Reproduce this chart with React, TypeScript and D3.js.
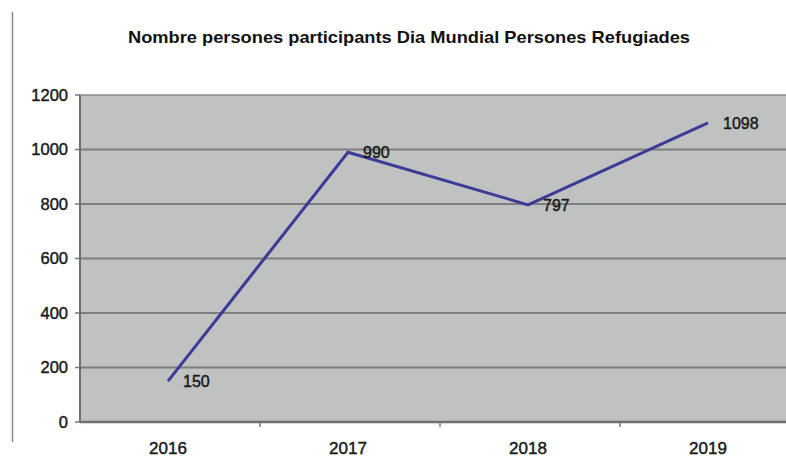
import React from "react";
import * as d3 from "d3";

const years = ["2016", "2017", "2018", "2019"];
const participants = [150, 990, 797, 1098];
const yTicks = [0, 200, 400, 600, 800, 1000, 1200];
const title = "Nombre persones participants Dia Mundial Persones Refugiades";

export default function App() {
  const W = 786, H = 458;
  const left = 80, right = 800, top = 95, bottom = 422;
  const x = d3.scaleBand<string>().domain(years).range([left, right]).padding(0);
  const y = d3.scaleLinear().domain([0, 1200]).range([bottom, top]);
  const cx = (d: string) => (x(d) as number) + x.bandwidth() / 2 - 2;
  const pts: [number, number][] = years.map((d, i) => [cx(d), y(participants[i])]);
  const line = d3.line<[number, number]>()(pts) as string;
  const font = "'Liberation Sans', Arial, sans-serif";
  const txt = { fill: "#1a1a1a", stroke: "#1a1a1a", strokeWidth: 0.45 };
  return (
    <svg width={W} height={H} style={{ position: "fixed", left: 0, top: 0, background: "#fff" }} fontFamily={font}>
      <rect x={0} y={0} width={W} height={H} fill="#fff" />
      <line x1={12.5} x2={12.5} y1={12} y2={442} stroke="#8a8a8a" strokeWidth={1.5} />
      <text x={409} y={43} textAnchor="middle" fontSize={17} fontWeight="bold" fill="#111" textLength={562} lengthAdjust="spacingAndGlyphs">{title}</text>
      <rect x={left} y={top} width={right - left} height={bottom - top} fill="#c0c2c2" stroke="#8a8c8c" strokeWidth={1.5} />
      {yTicks.filter(t => t > 0 && t < 1200).map(t => (
        <line key={t} x1={left} x2={right} y1={y(t)} y2={y(t)} stroke="#7c7e7e" strokeWidth={2} />
      ))}
      {yTicks.map(t => (
        <g key={"yt" + t}>
          <line x1={left - 5} x2={left} y1={y(t)} y2={y(t)} stroke="#777" strokeWidth={1.5} />
          <text x={68} y={y(t)} dy="0.36em" textAnchor="end" fontSize={16.5} {...txt}>{t}</text>
        </g>
      ))}
      <line x1={left} x2={left} y1={top} y2={bottom} stroke="#6e7070" strokeWidth={2} />
      <line x1={left} x2={right} y1={bottom} y2={bottom} stroke="#6e7070" strokeWidth={2.5} />
      {years.map((d, i) => (
        <g key={d}>
          {i > 0 && <line x1={x(d)} x2={x(d)} y1={bottom} y2={bottom + 5} stroke="#777" strokeWidth={1.5} />}
          <text x={cx(d)} y={454} textAnchor="middle" fontSize={17} {...txt}>{d}</text>
        </g>
      ))}
      <path d={line} fill="none" stroke="#3c3c96" strokeWidth={3} strokeLinejoin="miter" />
      {years.map((d, i) => (
        <text key={"l" + d} x={pts[i][0] + 15} y={pts[i][1]} dy="0.36em" fontSize={16} {...txt}>{participants[i]}</text>
      ))}
    </svg>
  );
}
